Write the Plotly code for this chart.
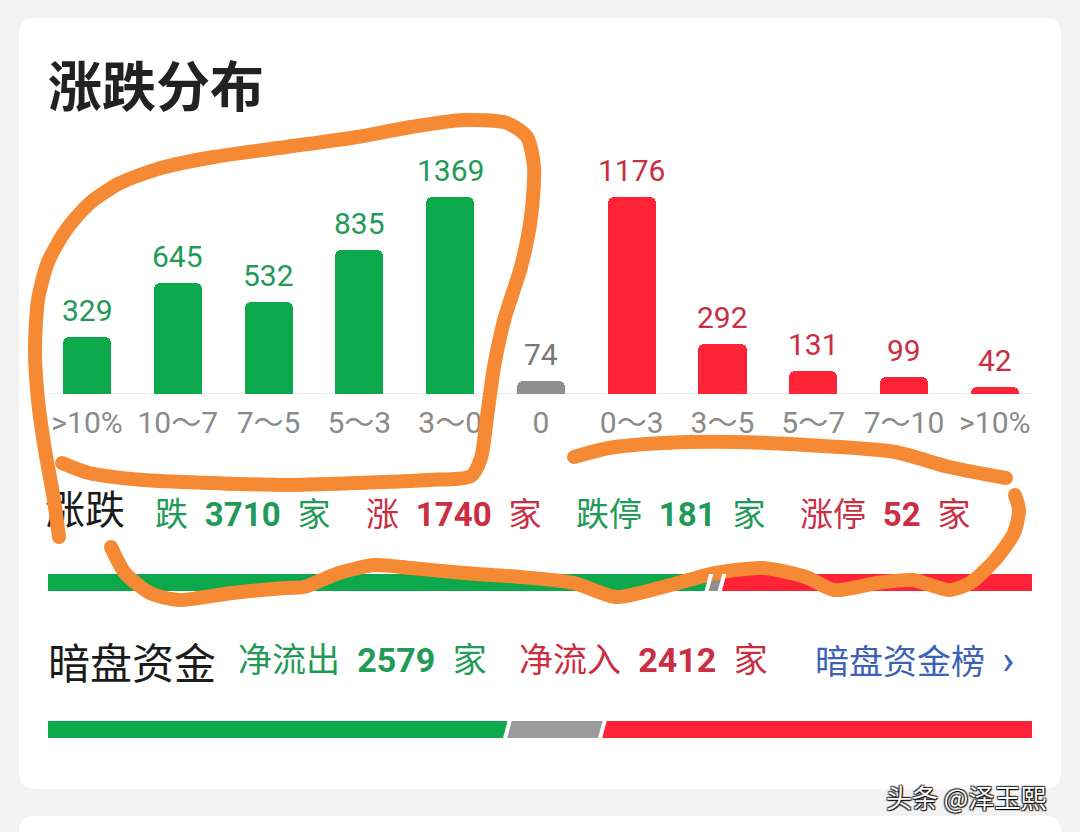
import numpy as np
import plotly.graph_objects as go

# ---------------- data ----------------
FALL_LABELS = [">10%", "10～7", "7～5", "5～3", "3～0"]
FALL_COUNTS = [329, 645, 532, 835, 1369]
FLAT_LABELS = ["0"]
FLAT_COUNTS = [74]
RISE_LABELS = ["0～3", "3～5", "5～7", "7～10", ">10%"]
RISE_COUNTS = [1176, 292, 131, 99, 42]

FALL_TOTAL = 3710
RISE_TOTAL = 1740
LIMIT_DOWN = 181
LIMIT_UP = 52

DARK_OUT = 2579
DARK_IN = 2412

BAR_CAP = 1140  # the app caps the tallest bars at this height

# ---------------- style ----------------
W, H = 1080, 832
GREEN = "#0DA84C"
RED = "#FF2338"
GRAY = "#8E8E8E"
GREEN_TXT = "#1F9A57"
RED_TXT = "#CB2D42"
BLUE_TXT = "#3B62B4"
ORANGE = "#F68A34"
CJK = "Noto Sans CJK SC"
NUM = "Roboto, Noto Sans CJK SC"
SP = "\u2002"


def px(x):
    return x / W


def py(y):
    return 1 - y / H


labels = FALL_LABELS + FLAT_LABELS + RISE_LABELS
positions = list(range(len(labels)))
fall_x = positions[:len(FALL_LABELS)]
flat_x = positions[len(FALL_LABELS):len(FALL_LABELS) + len(FLAT_LABELS)]
rise_x = positions[len(FALL_LABELS) + len(FLAT_LABELS):]

fig = go.Figure()

for xs, vals, col in [(fall_x, FALL_COUNTS, GREEN), (flat_x, FLAT_COUNTS, GRAY), (rise_x, RISE_COUNTS, RED)]:
    fig.add_trace(go.Bar(
        x=xs, y=np.minimum(vals, BAR_CAP), marker=dict(color=col, line=dict(width=0), cornerradius=6),
        width=0.53, hoverinfo="skip", xaxis="x", yaxis="y"))

annotations = []
for xs, vals, col in [(fall_x, FALL_COUNTS, GREEN_TXT), (flat_x, FLAT_COUNTS, "#777777"), (rise_x, RISE_COUNTS, RED_TXT)]:
    for x, v in zip(xs, vals):
        annotations.append(dict(x=x, y=min(v, BAR_CAP), xref="x", yref="y", text=str(v), showarrow=False,
                                yanchor="bottom", yshift=7, font=dict(family=NUM, size=30, color=col)))

# progress bar 1: rise / fall
total = FALL_TOTAL + FLAT_COUNTS[0] + RISE_TOTAL
for val, col in [(FALL_TOTAL, GREEN), (FLAT_COUNTS[0], GRAY), (RISE_TOTAL, RED)]:
    fig.add_trace(go.Bar(x=[val], y=[0], orientation="h", width=1, marker=dict(color=col, line=dict(width=0)),
                         xaxis="x2", yaxis="y2", hoverinfo="skip"))
# progress bar 2: dark-pool funds
neutral = total - DARK_OUT - DARK_IN
for val, col in [(DARK_OUT, GREEN), (neutral, "#9B9B9B"), (DARK_IN, RED)]:
    fig.add_trace(go.Bar(x=[val], y=[0], orientation="h", width=1, marker=dict(color=col, line=dict(width=0)),
                         xaxis="x3", yaxis="y3", hoverinfo="skip"))

# label under the hand-drawn strokes
fig.add_trace(go.Scatter(x=[45], y=[514], mode="text", text=["涨跌"], textposition="middle right",
                         textfont=dict(family=CJK, size=40, color="#1B1B1B"), xaxis="x4", yaxis="y4",
                         hoverinfo="skip"))

# hand-drawn orange strokes (decoration, pixel coordinates)
STROKES = [
    [(59, 537), (54, 500), (45, 450), (38, 400), (35, 350), (38, 300), (48, 262), (66, 230), (90, 203),
     (120, 183), (161, 168), (214, 157), (286, 147), (357, 137), (411, 127), (464, 120), (507, 123),
     (527, 137), (534, 167), (531, 217), (521, 267), (505, 317), (494, 367), (487, 417), (481, 458),
     (471, 476), (429, 480), (357, 483), (286, 485), (214, 483), (143, 480), (89, 473), (62, 463)],
    [(111, 547), (125, 573), (150, 593), (179, 600), (232, 593), (286, 588), (304, 587), (339, 573),
     (375, 565), (411, 568), (464, 573), (520, 577), (574, 583), (616, 597), (663, 587), (716, 573),
     (763, 568), (806, 577), (834, 590), (877, 583), (913, 580), (949, 590), (970, 583), (995, 560),
     (1014, 533), (1019, 510), (1015, 495)],
    [(1006, 478), (949, 467), (895, 452), (806, 445), (734, 442), (663, 443), (609, 448), (574, 457)],
]
for s in STROKES:
    xs = [p[0] for p in s]
    ys = [p[1] for p in s]
    fig.add_trace(go.Scatter(x=xs, y=ys, mode="lines",
                             line=dict(color=ORANGE, width=14, shape="spline", smoothing=0.7),
                             xaxis="x4", yaxis="y4", hoverinfo="skip"))
    fig.add_trace(go.Scatter(x=[xs[0], xs[-1]], y=[ys[0], ys[-1]], mode="markers",
                             marker=dict(color=ORANGE, size=14, line=dict(width=0)),
                             xaxis="x4", yaxis="y4", hoverinfo="skip"))


def rrect(x0, y0, x1, y1, r):
    return (f"M {px(x0 + r)},{py(y0)} L {px(x1 - r)},{py(y0)} Q {px(x1)},{py(y0)} {px(x1)},{py(y0 + r)} "
            f"L {px(x1)},{py(y1 - r)} Q {px(x1)},{py(y1)} {px(x1 - r)},{py(y1)} L {px(x0 + r)},{py(y1)} "
            f"Q {px(x0)},{py(y1)} {px(x0)},{py(y1 - r)} L {px(x0)},{py(y0 + r)} Q {px(x0)},{py(y0)} {px(x0 + r)},{py(y0)} Z")


shapes = [
    dict(type="path", path=rrect(18, 17, 1062, 790, 18), xref="paper", yref="paper",
         fillcolor="white", line=dict(color="#EDEDED", width=1), layer="below"),
    dict(type="path", path=rrect(18, 815, 1062, 880, 18), xref="paper", yref="paper",
         fillcolor="white", line=dict(color="#EDEDED", width=1), layer="below"),
    dict(type="line", x0=-0.43, x1=10.41, y0=0, y1=0, xref="x", yref="y",
         line=dict(color="#EBEBEB", width=2), layer="below"),
]

# slanted separators on the progress bars
for axis, segs in [("2", [FALL_TOTAL, FLAT_COUNTS[0]]), ("3", [DARK_OUT, neutral])]:
    b = 0
    for sgm in segs:
        b += sgm
        d = total * 2.5 / 984
        shapes.append(dict(type="line", x0=b - d, x1=b + d, y0=-0.55, y1=0.55, xref="x" + axis, yref="y" + axis,
                           line=dict(color="white", width=4)))


def txt(x, y, text, size, color, family=NUM, anchor="left"):
    annotations.append(dict(x=px(x), y=py(y), xref="paper", yref="paper", text=text, showarrow=False,
                            xanchor=anchor, yanchor="middle", font=dict(family=family, size=size, color=color)))


txt(46, 83, "<b>涨跌分布</b>", 54, "#222222", CJK)
txt(153, 514, f"跌{SP}<b>{FALL_TOTAL}</b>{SP}家", 33, GREEN_TXT)
txt(364, 514, f"涨{SP}<b>{RISE_TOTAL}</b>{SP}家", 33, RED_TXT)
txt(574, 514, f"跌停{SP}<b>{LIMIT_DOWN}</b>{SP}家", 33, GREEN_TXT)
txt(798, 514, f"涨停{SP}<b>{LIMIT_UP}</b>{SP}家", 33, RED_TXT)

txt(46, 660, "暗盘资金", 42, "#1B1B1B", CJK)
txt(236, 660, f"净流出{SP}<b>{DARK_OUT}</b>{SP}家", 34, GREEN_TXT)
txt(517, 660, f"净流入{SP}<b>{DARK_IN}</b>{SP}家", 34, RED_TXT)
txt(813, 660, f"暗盘资金榜{SP}<span style='font-size:40px'>›</span>", 34, BLUE_TXT)

annotations.append(dict(x=px(884), y=py(796), xref="paper", yref="paper", text="头条 @泽玉熙", showarrow=False,
                        xanchor="left", yanchor="middle",
                        font=dict(family=CJK, size=26, color="white",
                                  shadow="1px 1px 1px #000, -1px -1px 1px #333, 1px -1px 1px #333, -1px 1px 1px #333")))

fig.update_layout(
    width=W, height=H, margin=dict(l=0, r=0, t=0, b=0), autosize=False,
    paper_bgcolor="#F3F3F3", plot_bgcolor="rgba(0,0,0,0)",
    showlegend=False, barmode="stack", bargap=0,
    shapes=shapes, annotations=annotations,
    xaxis=dict(domain=[px(48), px(1032)], range=[-0.43, 10.41], tickmode="array", tickvals=positions,
               ticktext=labels, showgrid=False, zeroline=False, showline=False, ticks="",
               ticklabelstandoff=8, tickfont=dict(family=NUM, size=30, color="#8A8A8A"), fixedrange=True),
    yaxis=dict(domain=[py(394), py(197)], range=[0, BAR_CAP], visible=False, fixedrange=True),
    xaxis2=dict(domain=[px(48), px(1032)], range=[0, total], visible=False, fixedrange=True),
    yaxis2=dict(domain=[py(591), py(574)], range=[-0.5, 0.5], visible=False, fixedrange=True),
    xaxis3=dict(domain=[px(48), px(1032)], range=[0, total], visible=False, fixedrange=True),
    yaxis3=dict(domain=[py(738), py(721)], range=[-0.5, 0.5], visible=False, fixedrange=True),
    xaxis4=dict(domain=[0, 1], range=[0, W], visible=False, fixedrange=True),
    yaxis4=dict(domain=[0, 1], range=[H, 0], visible=False, fixedrange=True),
)

fig.write_html("out.html", config={"displayModeBar": False})
